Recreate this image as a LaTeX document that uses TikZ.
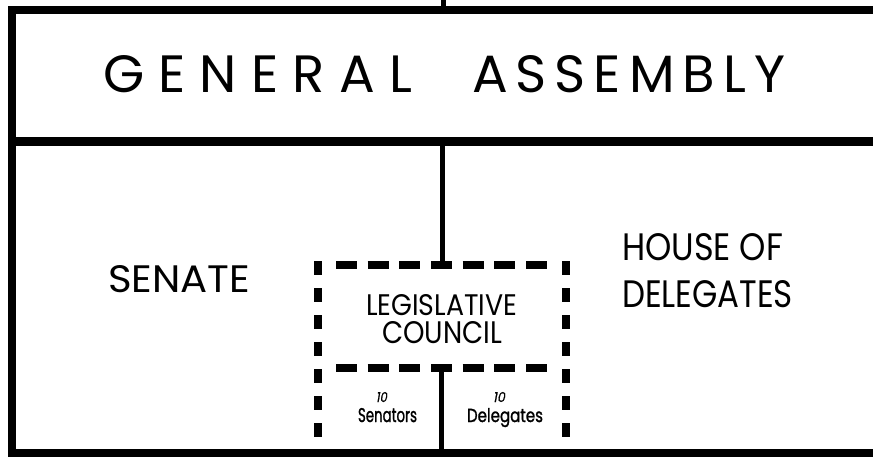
\documentclass[tikz,border=0pt]{standalone}
\usepackage{fontspec}
\usepackage{graphicx}
\setmainfont{Poppins}
\tikzset{
  frame/.style={line width=8pt, line join=miter},
  midline/.style={line width=9pt},
  link/.style={line width=5pt},
  hdash/.style={line width=8pt, dash pattern=on 21pt off 10.67pt},
  vdash/.style={line width=8pt, dash pattern=on 14pt off 13pt},
  lbl/.style={anchor=base west, inner sep=0pt, outer sep=0pt}
}
\begin{document}
\begin{tikzpicture}[x=1pt,y=-1pt]
\useasboundingbox (0,0) rectangle (873,458);
% frame coordinates
\coordinate (trt) at (885,10);
\coordinate (tlc) at (12,10);
\coordinate (blc) at (12,453);
\coordinate (brt) at (885,453);
\coordinate (stubtop) at (443,-5);
\coordinate (stubbot) at (443,10);
\coordinate (midl) at (12,141);
\coordinate (midr) at (885,141);
\coordinate (linkA) at (442,141);
\coordinate (linkB) at (442,265);
\coordinate (linkC) at (441,368);
\coordinate (linkD) at (441,453);
\coordinate (dtl) at (336,265);
\coordinate (dtr) at (547,265);
\coordinate (dml) at (336,368);
\coordinate (dmr) at (547,368);
\coordinate (dlt) at (318,261);
\coordinate (dlb) at (318,453);
\coordinate (drt) at (566,261);
\coordinate (drb) at (566,453);
% frame
\draw[frame] (trt) -- (tlc) -- (blc) -- (brt);
\draw[link] (stubtop) -- (stubbot);
\draw[midline] (midl) -- (midr);
\draw[link] (linkA) -- (linkB);
\draw[link] (linkC) -- (linkD);
% dashed council box
\draw[hdash] (dtl) -- (dtr);
\draw[hdash] (dml) -- (dmr);
\draw[vdash] (dlt) -- (dlb);
\draw[vdash] (drt) -- (drb);
% texts
\node[lbl] (ga1) at (103,92) {\resizebox{309pt}{37pt}{\fontsize{53}{60}\selectfont\makebox[309pt]{G\hfill E\hfill N\hfill E\hfill R\hfill A\hfill L}}};
\node[lbl] (ga2) at (472,92) {\resizebox{313pt}{37pt}{\fontsize{53}{60}\selectfont\makebox[313pt]{A\hfill S\hfill S\hfill E\hfill M\hfill B\hfill L\hfill Y}}};
\node[lbl] (senate) at (108,292) {\resizebox{142pt}{27pt}{SENATE}};
\node[lbl] (house1) at (622,260) {\resizebox{161pt}{27pt}{HOUSE OF}};
\node[lbl] (house2) at (622,307) {\resizebox{171pt}{27pt}{DELEGATES}};
\node[lbl] (lc1) at (366,315) {\resizebox{151pt}{21pt}{LEGISLATIVE}};
\node[lbl] (lc2) at (382,343) {\resizebox{120pt}{22pt}{COUNCIL}};
\node[lbl] (n1) at (376,402) {\resizebox{11pt}{10pt}{\addfontfeature{FakeSlant=0.2,FakeBold=1}10}};
\node[lbl] (sen) at (358,422) {\resizebox{59pt}{14pt}{\addfontfeature{FakeBold=1.5}Senators}};
\node[lbl] (n2) at (493,402) {\resizebox{12pt}{10pt}{\addfontfeature{FakeSlant=0.2,FakeBold=1}10}};
\node[lbl] (del) at (467,422) {\resizebox{76pt}{14pt}{\addfontfeature{FakeBold=1.5}Delegates}};
\end{tikzpicture}
\end{document}
